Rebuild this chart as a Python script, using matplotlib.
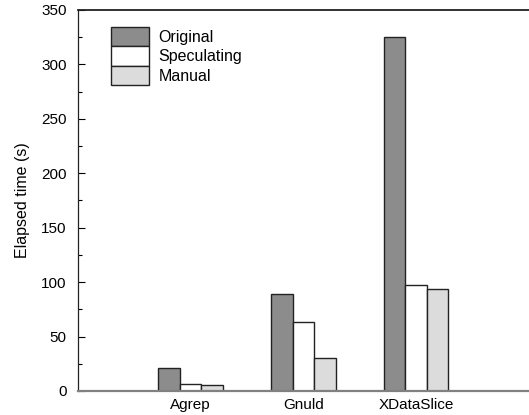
import matplotlib
matplotlib.use("Agg")
import matplotlib.pyplot as plt
import numpy as np
from matplotlib.ticker import MultipleLocator

categories = ["Agrep", "Gnuld", "XDataSlice"]
series_names = ["Original", "Speculating", "Manual"]
original = [21, 89, 325]
speculating = [6.5, 63, 97]
manual = [5.5, 30, 94]
yticks = [0, 50, 100, 150, 200, 250, 300, 350]

colors = ["#8c8c8c", "#ffffff", "#dcdcdc"]

plt.rcParams['font.family'] = ['Liberation Sans', 'DejaVu Sans']

fig = plt.figure(figsize=(5.29, 4.15), dpi=100)
ax = fig.add_axes([0.147, 0.058, 0.853, 0.918])

x = np.arange(1, len(categories) + 1)
w = 0.19
for i, (name, vals) in enumerate(zip(series_names, [original, speculating, manual])):
    ax.bar(x + (i - 1) * w, vals, width=w, color=colors[i], edgecolor="#222222",
           linewidth=1.0, label=name, zorder=2)

ax.set_xlim(0, 4)
ax.set_ylim(0, 350)
ax.set_xticks(x)
ax.set_xticklabels(categories, fontsize=11)
ax.set_yticks(yticks)
ax.yaxis.set_minor_locator(MultipleLocator(25))
ax.tick_params(axis='y', which='major', direction='in', length=5, width=0.8, pad=8, labelsize=11)
ax.tick_params(axis='y', which='minor', direction='in', length=3, width=0.8)
ax.tick_params(axis='x', length=0, pad=5)
ax.set_ylabel("Elapsed time (s)", fontsize=11.5, labelpad=8)

ax.spines['right'].set_visible(False)
ax.spines['top'].set_color("#222222")
ax.spines['top'].set_linewidth(1.3)
ax.spines['left'].set_color("#222222")
ax.spines['left'].set_linewidth(0.9)
ax.spines['bottom'].set_color("#808080")
ax.spines['bottom'].set_linewidth(1.6)

leg = ax.legend(loc='upper left', bbox_to_anchor=(110.7 / 529, 1 - 26.7 / 415),
                bbox_transform=fig.transFigure, frameon=False, fontsize=11.5,
                borderpad=0, borderaxespad=0, labelspacing=0, handlelength=2.4,
                handleheight=1.5, handletextpad=0.6)

fig.savefig("out.png", dpi=100)
